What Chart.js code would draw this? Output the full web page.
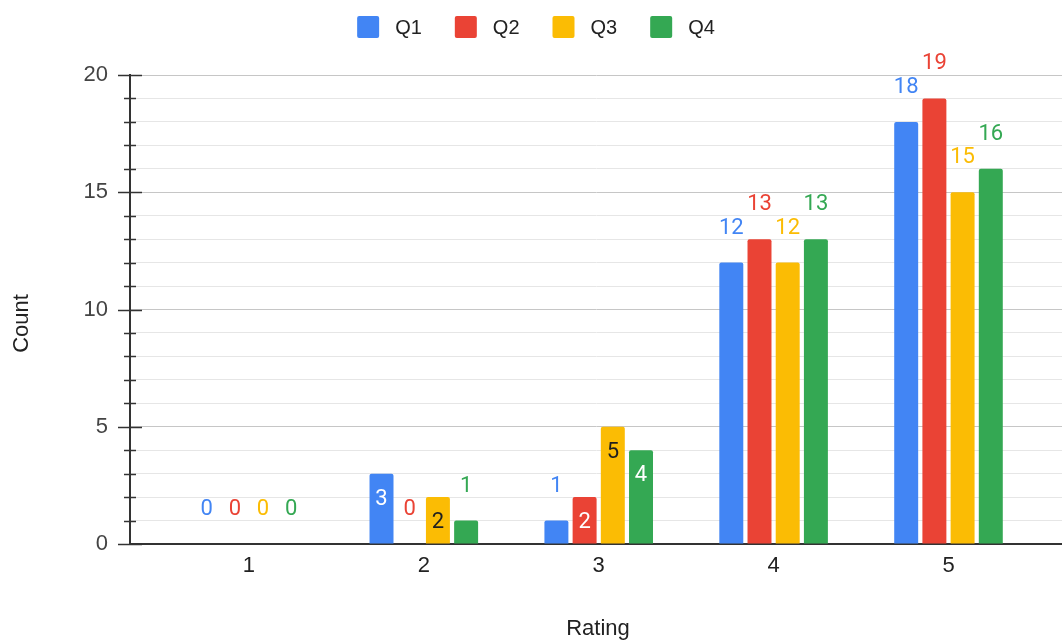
<!DOCTYPE html>
<html>
<head>
<meta charset="utf-8">
<title>Ratings by quarter</title>
<script src="https://cdn.jsdelivr.net/npm/chart.js@4.4.1/dist/chart.umd.min.js"></script>
<style>
  html, body { margin: 0; padding: 0; background: #ffffff; }
  #wrap { width: 1062px; height: 641px; }
</style>
</head>
<body>
<div id="wrap"><canvas id="chart" width="1062" height="641"></canvas></div>
<script>
// Rating categories and the count of responses per quarter
const ratings = [1, 2, 3, 4, 5];
const seriesNames = ['Q1', 'Q2', 'Q3', 'Q4'];
const q1 = [0, 3, 1, 12, 18];
const q2 = [0, 0, 2, 13, 19];
const q3 = [0, 2, 5, 12, 15];
const q4 = [0, 1, 4, 13, 16];
const yTickLabels = [0, 5, 10, 15, 20];
const yMax = 20;

const seriesValues = [q1, q2, q3, q4];
const barColors = ['#4285F4', '#EA4335', '#FBBC04', '#34A853'];
const insideTextColors = ['#ffffff', '#ffffff', '#1f1f1f', '#ffffff'];
const axisFont = '"Liberation Sans", Arial, sans-serif';
const labelFont = 'Roboto, "Liberation Sans", sans-serif';

// Value labels sit inside mid-height bars and above the others
const insideMin = 2, insideMax = 5;

const datasets = seriesNames.map((name, s) => ({
  label: name,
  data: ratings.map((r, i) => ({ x: r, y: seriesValues[s][i] })),
  backgroundColor: barColors[s],
  borderRadius: 2,
  borderSkipped: 'start',
  categoryPercentage: 0.645,
  barPercentage: 0.85
}));

const valueLabels = {
  id: 'valueLabels',
  afterDatasetsDraw(chart) {
    const ctx = chart.ctx;
    ctx.save();
    ctx.font = '22px ' + labelFont;
    ctx.textAlign = 'center';
    ctx.textBaseline = 'alphabetic';
    chart.data.datasets.forEach((ds, di) => {
      chart.getDatasetMeta(di).data.forEach((bar, i) => {
        const v = ds.data[i].y;
        const inside = v >= insideMin && v <= insideMax;
        ctx.fillStyle = inside ? insideTextColors[di] : barColors[di];
        ctx.fillText(String(v), bar.x, inside ? bar.y + 31 : bar.y - 29);
      });
    });
    ctx.restore();
  }
};

// Cross-shaped tick marks on the value axis
const axisTicks = {
  id: 'axisTicks',
  afterDraw(chart) {
    const y = chart.scales.y;
    const left = chart.chartArea.left;
    const ctx = chart.ctx;
    ctx.save();
    ctx.strokeStyle = '#333333';
    ctx.lineWidth = 1.5;
    y.ticks.forEach(t => {
      const py = Math.round(y.getPixelForValue(t.value)) + 0.5;
      const half = yTickLabels.includes(t.value) ? 12 : 6;
      ctx.beginPath();
      ctx.moveTo(left - half, py);
      ctx.lineTo(left + half, py);
      ctx.stroke();
    });
    ctx.restore();
  }
};

// Legend row and axis titles
const chrome = {
  id: 'chrome',
  afterDraw(chart) {
    const ctx = chart.ctx;
    ctx.save();
    ctx.font = '20px ' + axisFont;
    const box = 22, gap = 16, spacing = 33;
    const widths = chart.data.datasets.map(d => box + gap + ctx.measureText(d.label).width);
    const total = widths.reduce((a, b) => a + b, 0) + spacing * (widths.length - 1);
    let x = chart.width / 2 - total / 2 + 5;
    chart.data.datasets.forEach((d, i) => {
      ctx.fillStyle = d.backgroundColor;
      ctx.beginPath();
      ctx.roundRect(x, 16, box, box, 2);
      ctx.fill();
      ctx.fillStyle = '#222222';
      ctx.textAlign = 'left';
      ctx.textBaseline = 'alphabetic';
      ctx.fillText(d.label, x + box + gap, 34);
      x += widths[i] + spacing;
    });

    const area = chart.chartArea;
    ctx.font = '22px ' + axisFont;
    ctx.fillStyle = '#222222';
    ctx.textAlign = 'center';
    ctx.fillText('Rating', (area.left + area.right) / 2 + 2, 635);
    ctx.translate(28, chart.height / 2 + 3);
    ctx.rotate(-Math.PI / 2);
    ctx.fillText('Count', 0, 0);
    ctx.restore();
  }
};

new Chart(document.getElementById('chart'), {
  type: 'bar',
  data: { datasets },
  plugins: [valueLabels, axisTicks, chrome],
  options: {
    responsive: false,
    animation: false,
    devicePixelRatio: 1,
    layout: { padding: { top: 75, right: 0, bottom: 0, left: 0 } },
    plugins: { legend: { display: false }, tooltip: { enabled: false } },
    scales: {
      x: {
        type: 'linear',
        offset: false,
        min: 0.32,
        max: 5.649,
        afterBuildTicks: s => { s.ticks = ratings.map(v => ({ value: v })); },
        afterFit: s => { s.height = 97; },
        grid: { display: true, offset: false, drawOnChartArea: false, drawTicks: false },
        border: { display: true, color: '#333333', width: 2 },
        ticks: {
          autoSkip: false, maxRotation: 0, padding: 9,
          color: '#222222', font: { family: axisFont, size: 22 },
          callback: v => String(v)
        }
      },
      y: {
        min: 0,
        max: yMax,
        // one gridline per unit, labels only on the multiples of five
        afterBuildTicks: s => {
          s.ticks = Array.from({ length: yMax + 1 }, (_, i) => ({ value: i }));
        },
        afterFit: s => { s.width = 130; },
        grid: {
          drawTicks: false,
          lineWidth: 1,
          color: ctx => yTickLabels.includes(ctx.tick.value) ? '#c6c6c6' : '#e6e6e6'
        },
        border: { display: true, color: '#333333', width: 2 },
        ticks: {
          autoSkip: false, padding: 22,
          color: '#444444', font: { family: axisFont, size: 22 },
          callback: v => yTickLabels.includes(v) ? String(v) : ''
        }
      }
    }
  }
});
</script>
</body>
</html>
